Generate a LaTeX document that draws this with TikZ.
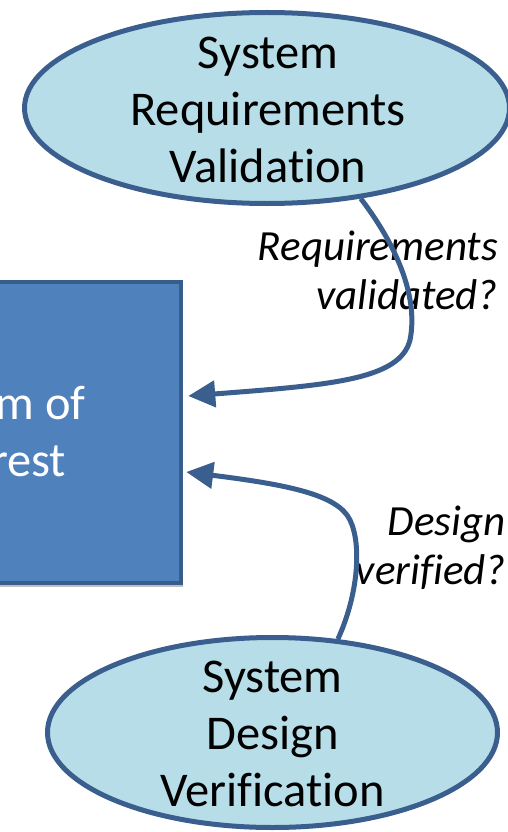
\documentclass[tikz,border=0pt]{standalone}
\usepackage{fontspec}
\setmainfont{Carlito}[Ligatures=NoCommon]
\usetikzlibrary{shapes.geometric,arrows.meta,calc,shadows}
\definecolor{ellfill}{HTML}{B7DEE8}
\definecolor{edgeblue}{HTML}{3A5F8E}
\definecolor{rectfill}{HTML}{4F81BD}
\definecolor{rectedge}{HTML}{385D8A}
\begin{document}
\begin{tikzpicture}[x=1pt,y=-1pt,
  oval/.style={ellipse, draw=edgeblue, line width=5pt, fill=ellfill, inner sep=0pt},
  bigtext/.style={font=\fontsize{48.5}{57}\selectfont, align=center, inner sep=0pt},
  qlabel/.style={font=\fontsize{43}{49}\selectfont\itshape, align=right, inner sep=0pt, anchor=east},
  flow/.style={draw=edgeblue, line width=5pt, -{Triangle[length=27pt,width=26pt]}}]
\useasboundingbox (0,0) rectangle (508,832);
\clip (0,0) rectangle (508,832);
\node[draw=rectedge, line width=4.5pt, fill=rectfill, minimum width=382pt, minimum height=301pt,
  drop shadow={shadow xshift=2pt, shadow yshift=-4pt, opacity=0.25, fill=black}] (rect) at (-10,432.5) {};
\node[bigtext, text=white] (recttext) at (-10,432) {System of\\Interest};
\node[oval, minimum width=485pt, minimum height=191pt] (top) at (267,108) {};
\node[bigtext] (toptext) at (268,109.5) {System\\Requirements\\Validation};
\node[oval, minimum width=450pt, minimum height=190pt] (bot) at (272.5,732.5) {};
\node[bigtext] (bottext) at (272.5,733.5) {System\\Design\\Verification};
\node[qlabel] (q1) at (498,270) {Requirements\\validated?};
\node[qlabel] (q2) at (506,548) {Design\\verified?};
\draw[flow] (top.-44) .. controls (400,250) and (418,300) .. (410,340)
  .. controls (400,380) and (330,385) .. ($(rect.east)+(5,-36.5)$);
\draw[flow] (bot.55) .. controls (358,595) and (362,545) .. (350,520)
  .. controls (338,495) and (290,485) .. ($(rect.east)+(3,39.5)$);
\end{tikzpicture}
\end{document}
